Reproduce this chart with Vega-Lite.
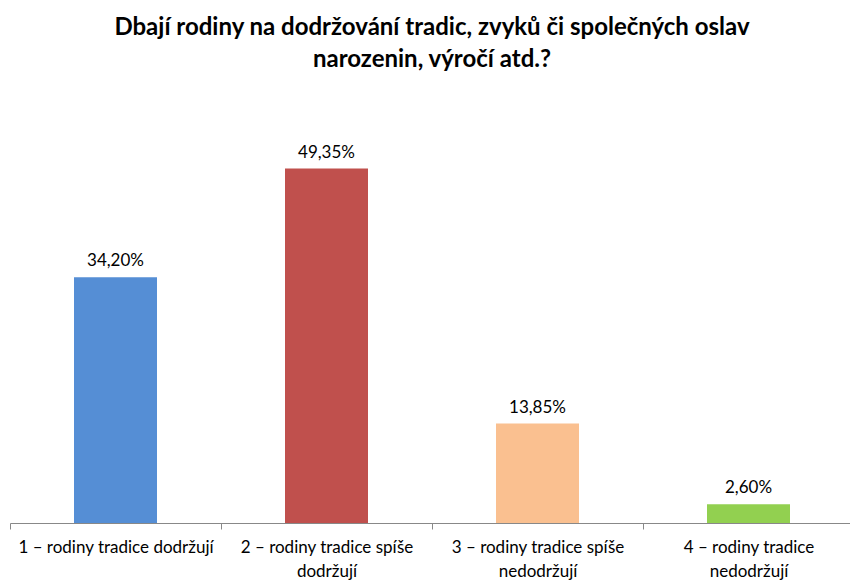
{
  "$schema": "https://vega.github.io/schema/vega-lite/v6.json",
  "autosize": "none",
  "width": 844,
  "height": 431,
  "padding": {"left": 10, "top": 92, "right": 0, "bottom": 58},
  "background": "white",
  "title": {
    "text": ["Dbají rodiny na dodržování tradic, zvyků či společných oslav", "narozenin, výročí atd.?"],
    "font": "Lato",
    "fontSize": 24,
    "fontWeight": "bold",
    "color": "#000000",
    "lineHeight": 32,
    "anchor": "middle",
    "offset": 20
  },
  "data": {
    "values": [
      {"kategorie": "1 – rodiny tradice dodržují", "podil": 0.3420, "barva": "b1"},
      {"kategorie": "2 – rodiny tradice spíše|dodržují", "podil": 0.4935, "barva": "b2"},
      {"kategorie": "3 – rodiny tradice spíše|nedodržují", "podil": 0.1385, "barva": "b3"},
      {"kategorie": "4 – rodiny tradice|nedodržují", "podil": 0.0260, "barva": "b4"}
    ]
  },
  "encoding": {
    "x": {
      "field": "kategorie",
      "type": "nominal",
      "sort": null,
      "scale": {"paddingInner": 0, "paddingOuter": 0},
      "axis": {
        "title": null,
        "labelAngle": 0,
        "labelExpr": "split(datum.label, '|')",
        "labelFont": "Lato",
        "labelFontSize": 17,
        "labelColor": "#000000",
        "labelLineHeight": 24,
        "labelPadding": 10,
        "labelLimit": 0,
        "tickBand": "extent",
        "tickSize": 6,
        "tickColor": "#888888",
        "domainColor": "#888888",
        "labelBaseline": "top"
      }
    },
    "y": {
      "field": "podil",
      "type": "quantitative",
      "scale": {"domain": [0, 0.6]},
      "axis": null
    }
  },
  "layer": [
    {
      "mark": {"type": "bar", "size": 83},
      "encoding": {
        "color": {
          "field": "barva",
          "type": "nominal",
          "scale": {"domain": ["b1", "b2", "b3", "b4"], "range": ["#558ED5", "#C0504D", "#FAC090", "#92D050"]},
          "legend": null
        }
      }
    },
    {
      "mark": {"type": "text", "dy": -16, "font": "Lato", "fontSize": 17, "color": "#000000"},
      "encoding": {
        "text": {"field": "podil", "type": "quantitative", "format": ".2%"}
      }
    }
  ],
  "config": {
    "view": {"stroke": null},
    "locale": {
      "number": {"decimal": ",", "thousands": " ", "grouping": [3], "currency": ["", " Kč"]}
    }
  }
}
